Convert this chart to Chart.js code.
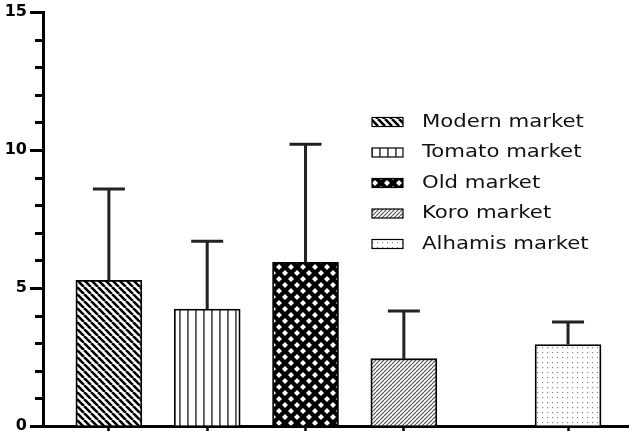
<!DOCTYPE html>
<html>
<head>
<meta charset="utf-8">
<script src="https://cdn.jsdelivr.net/npm/chart.js@4"></script>
<style>
  body { margin: 0; background: #fff; }
  #wrap { width: 629px; height: 431px; }
</style>
</head>
<body>
<div id="wrap"><canvas id="myChart" width="629" height="431"></canvas></div>
<script>
// data
const markets = ['Modern market', 'Tomato market', 'Old market', 'Koro market', 'Alhamis market'];
const xPos = [1, 2, 3, 4, 5.67];
const means = [5.28, 4.24, 5.93, 2.44, 2.95];
const errs = [3.31, 2.45, 4.28, 1.73, 0.82];
const yMajor = [0, 5, 10, 15];

// patterns for the bars
function makePattern(size, draw) {
  const c = document.createElement('canvas');
  c.width = size; c.height = size;
  const g = c.getContext('2d');
  g.fillStyle = '#fff';
  g.fillRect(0, 0, size, size);
  draw(g, size);
  return g.createPattern(c, 'repeat');
}

const patterns = [
  // Modern: heavy "\" stripes
  makePattern(7, (g, s) => {
    g.strokeStyle = '#000'; g.lineWidth = 2.6;
    g.beginPath();
    for (let k = -s; k <= s; k += s) { g.moveTo(k, 0); g.lineTo(k + s, s); }
    g.stroke();
  }),
  // Tomato: vertical lines
  makePattern(8, (g, s) => {
    g.fillStyle = '#555';
    g.fillRect(3, 0, 1.8, s);
  }),
  // Old: black with white diamonds
  makePattern(12, (g, s) => {
    g.fillStyle = '#000';
    g.fillRect(0, 0, s, s);
    g.fillStyle = '#fff';
    const dia = (cx, cy, r) => {
      g.beginPath();
      g.moveTo(cx, cy - r); g.lineTo(cx + r, cy); g.lineTo(cx, cy + r); g.lineTo(cx - r, cy);
      g.closePath(); g.fill();
    };
    dia(3, 3, 3); dia(9, 9, 3);
  }),
  // Koro: fine "/" stripes
  makePattern(4, (g, s) => {
    g.strokeStyle = '#555'; g.lineWidth = 1.2;
    g.beginPath();
    for (let k = -s; k <= s; k += s) { g.moveTo(k, s); g.lineTo(k + s, 0); }
    g.stroke();
  }),
  // Alhamis: sparse dots
  makePattern(5, (g, s) => {
    g.fillStyle = '#888';
    g.fillRect(2, 2, 1.2, 1.2);
  })
];

// error bars (upper only)
const errorBars = {
  id: 'errorBars',
  afterDatasetsDraw(chart) {
    const { ctx, scales: { x, y } } = chart;
    ctx.save();
    ctx.strokeStyle = '#222';
    ctx.lineWidth = 3;
    markets.forEach((m, i) => {
      const px = x.getPixelForValue(xPos[i]);
      const y0 = y.getPixelForValue(means[i]);
      const y1 = y.getPixelForValue(means[i] + errs[i]);
      ctx.beginPath();
      ctx.moveTo(px, y0); ctx.lineTo(px, y1);
      ctx.moveTo(px - 16, y1); ctx.lineTo(px + 16, y1);
      ctx.stroke();
    });
    ctx.restore();
  }
};

// short minor ticks on the y axis
const minorTicks = {
  id: 'minorTicks',
  afterDraw(chart) {
    const { ctx, scales: { y }, chartArea } = chart;
    ctx.save();
    ctx.strokeStyle = '#000';
    ctx.lineWidth = 3;
    for (let v = 1; v < 15; v++) {
      if (v % 5 === 0) continue;
      const py = Math.round(y.getPixelForValue(v)) + 0.5;
      ctx.beginPath();
      ctx.moveTo(chartArea.left - 8, py);
      ctx.lineTo(chartArea.left, py);
      ctx.stroke();
    }
    ctx.restore();
  }
};

// legend with patterned boxes
const patternLegend = {
  id: 'patternLegend',
  afterDraw(chart) {
    const ctx = chart.ctx;
    ctx.save();
    chart.data.datasets.forEach((ds, i) => {
      const cy = 122 + i * 30.5;
      ctx.fillStyle = ds.backgroundColor;
      ctx.fillRect(372, cy - 4.5, 31, 9);
      ctx.strokeStyle = '#000';
      ctx.lineWidth = 1.2;
      ctx.strokeRect(372, cy - 4.5, 31, 9);
      ctx.save();
      ctx.translate(422, cy);
      ctx.scale(1.18, 1);
      ctx.fillStyle = '#111';
      ctx.font = '18px "DejaVu Sans"';
      ctx.textBaseline = 'middle';
      ctx.fillText(ds.label, 0, 0);
      ctx.restore();
    });
    ctx.restore();
  }
};

const ctxChart = document.getElementById('myChart');

const myChart = new Chart(ctxChart, {
  type: 'bar',
  data: {
    datasets: markets.map((m, i) => ({
      label: m,
      data: [{ x: xPos[i], y: means[i] }],
      backgroundColor: patterns[i],
      borderColor: '#000',
      borderWidth: 1.8,
      barThickness: 66,
      grouped: false
    }))
  },
  options: {
    responsive: false,
    animation: false,
    layout: { padding: { top: 12, right: 0, left: 0, bottom: 0 } },
    plugins: {
      legend: { display: false },
      tooltip: { enabled: false }
    },
    scales: {
      x: {
        type: 'linear',
        offset: false,
        min: 0.33,
        max: 6.29,
        afterBuildTicks: scale => { scale.ticks = xPos.map(v => ({ value: v })); },
        afterFit: scale => { scale.height = 5; },
        ticks: { display: false },
        grid: { drawOnChartArea: false, offset: false, tickLength: 5, tickWidth: 2.5, tickColor: '#000' },
        border: { color: '#000', width: 3 }
      },
      y: {
        min: 0,
        max: 15,
        afterBuildTicks: scale => {
          const t = [];
          for (let v = 0; v <= 15; v++) t.push({ value: v });
          scale.ticks = t;
        },
        afterFit: scale => {
          scale.width = 43;
          scale.paddingTop = 0;
          scale.paddingBottom = 0;
        },
        ticks: {
          autoSkip: false,
          padding: 3,
          color: '#000',
          font: { family: 'DejaVu Sans', size: 16, weight: 'bold' },
          callback: v => (yMajor.includes(v) ? v : '')
        },
        grid: {
          drawOnChartArea: false,
          tickLength: 13,
          tickWidth: 3,
          tickColor: c => (yMajor.includes(c.tick.value) ? '#000' : 'rgba(0,0,0,0)')
        },
        border: { color: '#000', width: 3 }
      }
    }
  },
  plugins: [errorBars, minorTicks, patternLegend]
});
</script>
</body>
</html>
